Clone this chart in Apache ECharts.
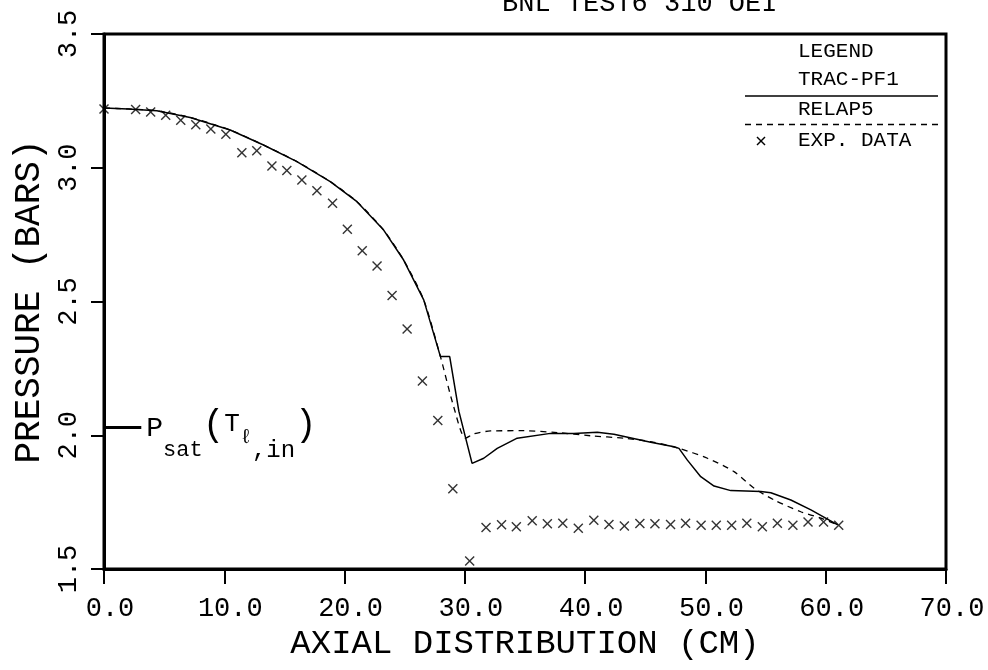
<!DOCTYPE html>
<html>
<head>
<meta charset="utf-8">
<script src="https://cdn.jsdelivr.net/npm/echarts@6/dist/echarts.min.js"></script>
<style>html,body{margin:0;padding:0;background:#fff;}#c{width:988px;height:670px;}</style>
</head>
<body>
<div id="c"></div>
<script>
// ---- data ----
const titleText = 'BNL TEST6 310 OEI';
const xTickValues = [0, 10, 20, 30, 40, 50, 60, 70];
const xTickLabels = ['0.0', '10.0', '20.0', '30.0', '40.0', '50.0', '60.0', '70.0'];
const yTickValues = [1.5, 2.0, 2.5, 3.0, 3.5];
const yTickLabels = ['1.5', '2.0', '2.5', '3.0', '3.5'];

const tracX = [0.0, 2.0, 4.39, 7.16, 10.49, 13.26, 16.04, 18.81, 21.03, 23.25, 24.91, 26.58, 27.97, 28.74, 29.5, 30.6, 31.57, 32.69, 34.35, 37.12, 39.06, 41.01, 42.39, 45.45, 47.39, 47.80, 48.50, 49.61, 50.72, 52.11, 54.61, 55.44, 57.10, 58.77, 61.0];
const tracY = [3.223, 3.220, 3.213, 3.188, 3.141, 3.085, 3.023, 2.948, 2.873, 2.767, 2.655, 2.506, 2.294, 2.294, 2.09, 1.895, 1.914, 1.951, 1.989, 2.007, 2.007, 2.011, 2.004, 1.974, 1.957, 1.951, 1.907, 1.845, 1.81, 1.793, 1.79, 1.785, 1.758, 1.721, 1.665];

const relapX = [0.0, 2.0, 4.39, 7.16, 10.49, 13.26, 16.04, 18.81, 21.03, 23.25, 24.91, 26.58, 27.97, 29.07, 30.05, 30.74, 32.13, 34.90, 37.68, 40.45, 43.22, 45.45, 47.80, 50.17, 52.38, 54.05, 55.71, 57.93, 59.60, 61.0];
const relapY = [3.223, 3.220, 3.213, 3.188, 3.141, 3.085, 3.023, 2.948, 2.873, 2.767, 2.655, 2.506, 2.294, 2.107, 1.989, 2.005, 2.016, 2.017, 2.010, 1.998, 1.989, 1.976, 1.951, 1.914, 1.864, 1.802, 1.758, 1.714, 1.690, 1.665];

const expX = [0.0, 2.63, 3.88, 5.13, 6.38, 7.63, 8.88, 10.13, 11.46, 12.7, 13.96, 15.2, 16.45, 17.7, 19.0, 20.23, 21.47, 22.7, 23.95, 25.2, 26.47, 27.75, 29.0, 30.4, 31.76, 33.05, 34.28, 35.6, 36.86, 38.14, 39.43, 40.72, 41.98, 43.26, 44.55, 45.8, 47.1, 48.35, 49.64, 50.9, 52.18, 53.44, 54.73, 55.98, 57.27, 58.53, 59.82, 61.08];
const expY = [3.22, 3.218, 3.208, 3.196, 3.178, 3.161, 3.145, 3.125, 3.056, 3.064, 3.007, 2.99, 2.954, 2.914, 2.867, 2.77, 2.69, 2.633, 2.522, 2.397, 2.203, 2.055, 1.80, 1.53, 1.655, 1.665, 1.658, 1.68, 1.669, 1.671, 1.652, 1.682, 1.666, 1.661, 1.67, 1.669, 1.666, 1.671, 1.664, 1.664, 1.664, 1.671, 1.658, 1.671, 1.664, 1.676, 1.676, 1.664];

const psatValue = 2.03;      // P_sat(T_l,in) level
const psatLineEnd = 3.1;     // short marker line from x = 0

// ---- chart ----
const FONT = "'Liberation Mono', 'DejaVu Sans Mono', monospace";
const zip = (xs, ys) => xs.map((x, i) => [x, ys[i]]);
const XPATH = 'path://M0,1L1,0L5,4L9,0L10,1L6,5L10,9L9,10L5,6L1,10L0,9L4,5Z';
const legFont = "21px 'Liberation Mono', monospace";
const legText = (txt, y) => ({type: 'text', x: 798, y: y, style: {text: txt, font: legFont, fill: '#000', textAlign: 'left', textVerticalAlign: 'middle', align: 'left', verticalAlign: 'middle'}});

const chart = echarts.init(document.getElementById('c'), null, {renderer: 'canvas'});
chart.setOption({
  animation: false,
  backgroundColor: '#fff',
  textStyle: {fontFamily: FONT, color: '#000'},
  title: {
    text: titleText, left: 497, top: -15,
    textStyle: {fontFamily: FONT, fontSize: 27, fontWeight: 'normal', color: '#000'}
  },
  grid: {left: 104, right: 42, top: 34, bottom: 101, show: true, borderColor: '#000', borderWidth: 3, containLabel: false},
  xAxis: {
    type: 'value', min: 0, max: 70, interval: 10,
    axisLine: {show: true, lineStyle: {color: '#000', width: 3}},
    axisTick: {show: true, length: 15, lineStyle: {color: '#000', width: 2}},
    splitLine: {show: false},
    axisLabel: {
      color: '#000', fontFamily: FONT, fontSize: 27, margin: 26, padding: [0, 0, 0, 12],
      formatter: v => { const i = xTickValues.indexOf(Math.round(v)); return i >= 0 ? xTickLabels[i] : ''; }
    },
    name: 'AXIAL DISTRIBUTION (CM)', nameLocation: 'middle', nameGap: 58,
    nameTextStyle: {fontFamily: FONT, fontSize: 34, color: '#000'}
  },
  yAxis: {
    type: 'value', min: 1.5, max: 3.5, interval: 0.5,
    axisLine: {show: true, lineStyle: {color: '#000', width: 3}},
    axisTick: {show: true, length: 13, lineStyle: {color: '#000', width: 2}},
    splitLine: {show: false},
    axisLabel: {
      color: '#000', fontFamily: FONT, fontSize: 27, margin: 22, rotate: 90,
      formatter: v => { const i = yTickValues.findIndex(t => Math.abs(t - v) < 1e-6); return i >= 0 ? yTickLabels[i] : ''; }
    },
    name: 'PRESSURE (BARS)', nameLocation: 'middle', nameRotate: 90, nameGap: 56,
    nameTextStyle: {fontFamily: FONT, fontSize: 36, color: '#000'}
  },
  series: [
    {
      name: 'RELAP5', type: 'line', data: zip(relapX, relapY), showSymbol: false, smooth: 0.25,
      lineStyle: {color: '#000', width: 1.3, type: [6, 5]}, z: 2
    },
    {
      name: 'TRAC-PF1', type: 'line', data: zip(tracX, tracY), showSymbol: false, smooth: false,
      lineStyle: {color: '#000', width: 1.5}, z: 3,
      markLine: {
        silent: true, symbol: ['none', 'none'],
        lineStyle: {color: '#000', width: 3, type: 'solid'},
        label: {
          show: true, position: 'end', distance: 5,
          formatter: '{p|P}{s|sat}{q|(}{t|T}{l|ℓ}{n|,in}{q|)}',
          rich: {
            p: {fontFamily: FONT, fontSize: 28, color: '#000', lineHeight: 30, verticalAlign: 'top', padding: [9, 0, 0, 0]},
            s: {fontFamily: FONT, fontSize: 22, color: '#000', lineHeight: 20, verticalAlign: 'top', padding: [34, 0, 0, 0]},
            q: {fontFamily: FONT, fontSize: 36, color: '#000', lineHeight: 44, verticalAlign: 'top', padding: [2, 0, 14, 0]},
            t: {fontFamily: FONT, fontSize: 26, color: '#000', lineHeight: 26, verticalAlign: 'top', padding: [6, 0, 0, 0]},
            l: {fontFamily: FONT, fontSize: 20, color: '#000', lineHeight: 20, verticalAlign: 'top', padding: [22, 0, 0, 0]},
            n: {fontFamily: FONT, fontSize: 24, color: '#000', lineHeight: 20, verticalAlign: 'top', padding: [33, 0, 0, 0]}
          }
        },
        data: [[{coord: [0, psatValue]}, {coord: [psatLineEnd, psatValue]}]]
      }
    },
    {
      name: 'EXP. DATA', type: 'scatter', data: zip(expX, expY),
      symbol: XPATH, symbolSize: 10, itemStyle: {color: '#000'}, z: 4
    }
  ],
  graphic: [
    legText('LEGEND', 51),
    legText('TRAC-PF1', 79),
    {type: 'line', shape: {x1: 745, y1: 96, x2: 938, y2: 96}, style: {stroke: '#000', lineWidth: 1.5}},
    legText('RELAP5', 109),
    {type: 'line', shape: {x1: 745, y1: 124.5, x2: 938, y2: 124.5}, style: {stroke: '#000', lineWidth: 1.3, lineDash: [6, 5]}},
    {type: 'line', shape: {x1: 757, y1: 137, x2: 765, y2: 145}, style: {stroke: '#000', lineWidth: 1.5}},
    {type: 'line', shape: {x1: 765, y1: 137, x2: 757, y2: 145}, style: {stroke: '#000', lineWidth: 1.5}},
    legText('EXP. DATA', 140)
  ]
});
</script>
</body>
</html>
